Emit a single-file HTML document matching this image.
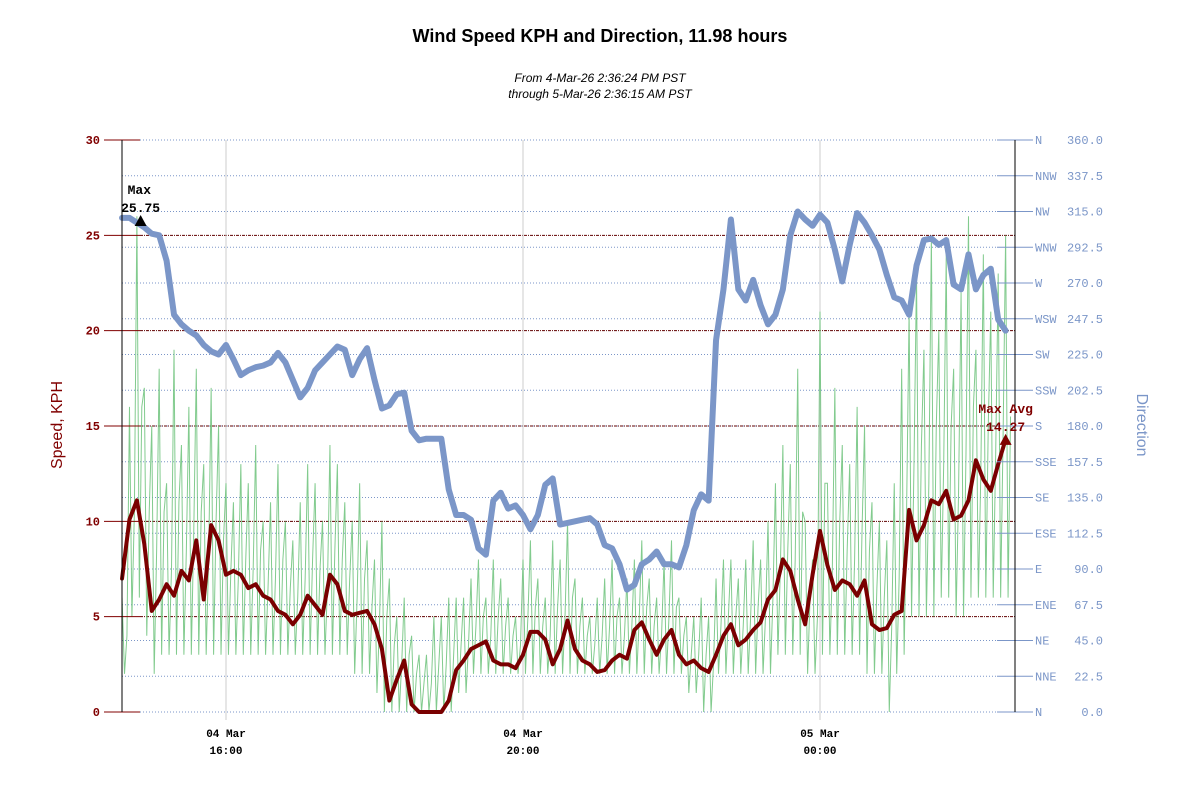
<!DOCTYPE html>
<html><head><meta charset="utf-8"><style>
body{margin:0;background:#fff;}
svg text{font-family:"Liberation Mono",monospace;}
</style></head><body>
<svg id="chart" width="1200" height="800" xmlns="http://www.w3.org/2000/svg">
<rect width="1200" height="800" fill="#fff"/>
<text x="600" y="42" text-anchor="middle" style="font-family:'Liberation Sans',sans-serif;font-weight:bold;font-size:18px">Wind Speed KPH and Direction, 11.98 hours</text>
<text x="600" y="82" text-anchor="middle" style="font-family:'Liberation Sans',sans-serif;font-style:italic;font-size:12px">From 4-Mar-26 2:36:24 PM PST</text>
<text x="600" y="98" text-anchor="middle" style="font-family:'Liberation Sans',sans-serif;font-style:italic;font-size:12px">through 5-Mar-26 2:36:15 AM PST</text>
<text transform="translate(62,425) rotate(-90)" text-anchor="middle" fill="#800000" style="font-family:'Liberation Sans',sans-serif;font-size:16px">Speed, KPH</text>
<text transform="translate(1137,425) rotate(90)" text-anchor="middle" fill="#7b96c8" style="font-family:'Liberation Sans',sans-serif;font-size:16px">Direction</text>
<g id="grid"></g><g id="series"></g><g id="axes"></g>
</svg>
<script>
const startHour = 14.6;
const stepHour = 0.1;
const dirValues = [311,311,308,305,301,300,284,250,244,240,237,231,227,225,231,222,212,215,217,218,220,226,220,209,198,204,215,220,225,230,228,212,222,229,209,191,193,200,201,177,171,172,172,172,140,124,124,121,103,99,133,138,128,130,124,115,124,143,147,118,119,120,121,122,118,105,103,93,77,80,93,96,101,93,93,91,105,127,137,133,234,266,310,266,259,272,256,244,250,266,300,315,310,306,313,308,291,271,294,314,308,300,291,275,261,259,250,281,297,298,294,297,269,266,288,266,275,279,247,240];
const avgValues = [7.0,10.1,11.1,8.8,5.3,5.9,6.7,6.1,7.4,6.9,9.0,5.9,9.8,9.0,7.2,7.4,7.2,6.5,6.7,6.1,5.9,5.3,5.1,4.6,5.1,6.1,5.6,5.1,7.2,6.7,5.3,5.1,5.2,5.3,4.6,3.3,0.6,1.7,2.7,0.4,0,0,0,0,0.6,2.2,2.7,3.3,3.5,3.7,2.7,2.5,2.5,2.3,3.0,4.2,4.2,3.8,2.5,3.3,4.8,3.3,2.7,2.5,2.1,2.2,2.7,3.0,2.8,4.3,4.7,3.8,3.0,3.8,4.3,3.0,2.5,2.7,2.3,2.1,3.0,4.0,4.6,3.5,3.8,4.3,4.7,5.9,6.4,8.0,7.4,5.9,4.6,7.2,9.5,7.7,6.4,6.9,6.7,6.1,6.9,4.6,4.3,4.4,5.1,5.3,10.6,9.0,9.8,11.1,10.9,11.6,10.1,10.3,11.1,13.2,12.2,11.6,13.0,14.3];
const gustHigh = [6,16,26,17,15,18,12,19,14,16,18,13,17,15,12,11,13,12,14,10,11,13,10,9,11,13,12,10,14,13,11,10,12,9,8,10,7,5,6,4,3,3,5,5,6,6,6,7,8,6,8,7,6,5,8,9,7,6,9,8,10,7,6,5,6,7,8,6,7,8,9,7,6,8,9,6,5,5,6,5,7,8,8,7,8,9,8,10,12,14,13,18,10,8,21,12,17,14,13,16,15,11,10,9,12,18,21,23,19,25,20,24,18,22,26,19,24,21,23,25];
const gustLow = [2,5,6,4,2,3,3,3,3,3,3,3,3,3,3,3,3,3,3,3,3,3,3,3,3,3,3,3,3,3,3,2,2,2,1,0,0,0,0,0,0,0,0,0,0,1,1,2,2,2,2,2,2,2,2,2,2,2,2,2,2,2,2,2,2,2,2,2,2,2,2,2,2,2,2,2,1,1,0,0,2,2,2,2,2,2,2,2,3,3,3,3,2,2,3,3,3,3,3,3,2,2,2,0,2,3,5,5,5,5,6,6,5,5,6,6,6,6,6,6];
const speedTicks = [0,5,10,15,20,25,30];
const dirTicks = [0,22.5,45,67.5,90,112.5,135,157.5,180,202.5,225,247.5,270,292.5,315,337.5,360];
const dirNames = ["N","NNE","NE","ENE","E","ESE","SE","SSE","S","SSW","SW","WSW","W","WNW","NW","NNW","N"];
const timeTicks = [16,20,24];
const timeLabels = [["04 Mar","16:00"],["04 Mar","20:00"],["05 Mar","00:00"]];
const maxGust = 25.75, maxGustHour = 14.85;
const maxAvg = 14.27, maxAvgHour = 26.5;

const NS="http://www.w3.org/2000/svg";
const X0=122,X1=1015,Y0=712,Y1=140;
const hx=h=>226+(h-16)*74.25;
const sy=v=>Y0-(v/30)*(Y0-Y1);
const dy=v=>Y0-(v/360)*(Y0-Y1);
function mk(tag,attrs,parent){const e=document.createElementNS(NS,tag);for(const k in attrs)e.setAttribute(k,attrs[k]);parent.appendChild(e);return e;}
const grid=document.getElementById('grid'),ser=document.getElementById('series'),ax=document.getElementById('axes');

dirTicks.forEach((d,i)=>{
  const l=mk('line',{x1:X0,x2:997,y1:dy(d),y2:dy(d),stroke:'#7b96c8','stroke-width':1,'stroke-dasharray':'1 2'},grid);
  
  const t=mk('line',{x1:997,x2:1033,y1:dy(d),y2:dy(d),stroke:'#7b96c8','stroke-width':1},ax);
  
  const a=mk('text',{x:1035,y:dy(d)+4,fill:'#7b96c8','font-size':12},ax);a.textContent=dirNames[i];
  
  const b=mk('text',{x:1103,y:dy(d)+4,fill:'#7b96c8','font-size':12,'text-anchor':'end'},ax);b.textContent=d.toFixed(1);
  
});
speedTicks.forEach(v=>{
  if(v>0&&v<30){const l=mk('line',{x1:140,x2:X1,y1:sy(v),y2:sy(v),stroke:'#600000','stroke-width':1,'stroke-dasharray':'3 1 1 1'},grid);
  }
  const t=mk('line',{x1:104,x2:140,y1:sy(v),y2:sy(v),stroke:'#800000','stroke-width':1},ax);
  
  const a=mk('text',{x:100,y:sy(v)+4,fill:'#800000','font-size':12,'text-anchor':'end','font-weight':'bold'},ax);a.textContent=v;
  
});
timeTicks.forEach((h,i)=>{
  const l=mk('line',{x1:hx(h),x2:hx(h),y1:Y1,y2:Y0+8,stroke:'#ccc','stroke-width':1},grid);
  
  const a=mk('text',{x:hx(h),y:737,'font-size':11,'text-anchor':'middle','font-weight':'bold'},ax);a.textContent=timeLabels[i][0];
  
  const b=mk('text',{x:hx(h),y:754,'font-size':11,'text-anchor':'middle','font-weight':'bold'},ax);b.textContent=timeLabels[i][1];
  
});
// gust
let gp=[];const gn=Math.min(gustHigh.length,gustLow.length);
for(let k=0;k<gn;k++){const h=startHour+k*stepHour;gp.push(hx(h)+','+sy(gustHigh[k]));gp.push(hx(h+stepHour*0.33)+','+sy(gustLow[k]));gp.push(hx(h+stepHour*0.66)+','+sy((gustHigh[k]+gustLow[k])/2));}
const g=mk('polyline',{points:gp.join(' '),fill:'none',stroke:'#6cc27a','stroke-width':1,opacity:0.85},ser);

// direction
const dp=dirValues.map((v,k)=>hx(startHour+k*stepHour)+','+dy(v)).join(' ');
const d=mk('polyline',{points:dp,fill:'none',stroke:'#7b96c8','stroke-width':6,'stroke-linejoin':'round','stroke-linecap':'round'},ser);

// avg
const ap=avgValues.map((v,k)=>hx(startHour+k*stepHour)+','+sy(v)).join(' ');
const a=mk('polyline',{points:ap,fill:'none',stroke:'#7a0000','stroke-width':4,'stroke-linejoin':'round','stroke-linecap':'round'},ser);

// axes lines
const la=mk('line',{x1:X0,x2:X0,y1:Y1,y2:Y0,stroke:'#000','stroke-width':1},ax);

const ra=mk('line',{x1:X1,x2:X1,y1:Y1,y2:Y0,stroke:'#000','stroke-width':1},ax);

// annotations
const mx=hx(maxGustHour),my=sy(maxGust);
const tri=mk('polygon',{points:`${mx-6},${my+5} ${mx+6},${my+5} ${mx},${my-6}`,fill:'#000'},ax);

const t1=mk('text',{x:mx-13,y:my-27,'font-size':13,'font-weight':'bold'},ax);t1.textContent='Max';

const t2=mk('text',{x:mx,y:my-9,'font-size':13,'font-weight':'bold','text-anchor':'middle'},ax);t2.textContent=maxGust.toFixed(2);

const ax2=hx(maxAvgHour),ay2=sy(maxAvg);
const tri2=mk('polygon',{points:`${ax2-6},${ay2+5} ${ax2+6},${ay2+5} ${ax2},${ay2-6}`,fill:'#800000'},ax);

const t3=mk('text',{x:ax2,y:ay2-27,'font-size':13,'font-weight':'bold','text-anchor':'middle',fill:'#800000'},ax);t3.textContent='Max Avg';

const t4=mk('text',{x:ax2,y:ay2-9,'font-size':13,'font-weight':'bold','text-anchor':'middle',fill:'#800000'},ax);t4.textContent=maxAvg.toFixed(2);

</script>
</body></html>
